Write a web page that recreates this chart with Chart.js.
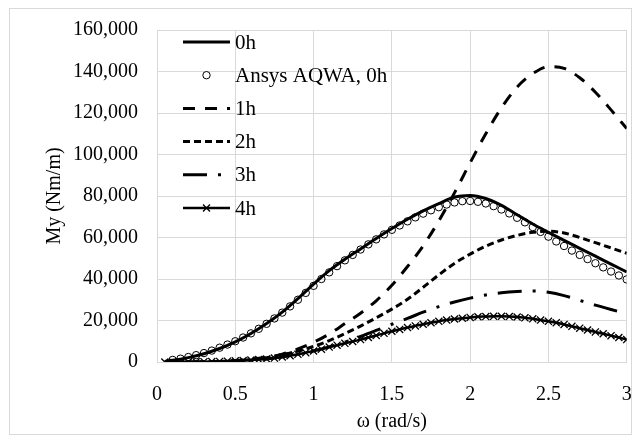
<!DOCTYPE html>
<html>
<head>
<meta charset="utf-8">
<script src="https://cdn.jsdelivr.net/npm/chart.js@4/dist/chart.umd.min.js"></script>
<style>
    body { margin: 0; background: #fff; }
    #wrap { width: 633px; height: 437px; }
</style>
</head>
<body>
<div id="wrap"><canvas id="myChart" width="633" height="437"></canvas></div>
<script>
// Data
const seriesNames = ['0h', 'Ansys AQWA, 0h', '1h', '2h', '3h', '4h'];

// frequency grid for the plain lines
const omega = [0.05, 0.1, 0.2, 0.3, 0.4, 0.5, 0.6, 0.7, 0.8, 0.9, 1.0,
    1.1, 1.2, 1.3, 1.4, 1.5, 1.6, 1.7, 1.8, 1.9, 2.0,
    2.1, 2.2, 2.3, 2.4, 2.5, 2.6, 2.7, 2.8, 2.9, 3.0];

// frequency grid for the marked series
const omegaFine = [0.05, 0.10, 0.15, 0.20, 0.25, 0.30, 0.35, 0.40, 0.45, 0.50,
    0.55, 0.60, 0.65, 0.70, 0.75, 0.80, 0.85, 0.90, 0.95, 1.00,
    1.05, 1.10, 1.15, 1.20, 1.25, 1.30, 1.35, 1.40, 1.45, 1.50,
    1.55, 1.60, 1.65, 1.70, 1.75, 1.80, 1.85, 1.90, 1.95, 2.00,
    2.05, 2.10, 2.15, 2.20, 2.25, 2.30, 2.35, 2.40, 2.45, 2.50,
    2.55, 2.60, 2.65, 2.70, 2.75, 2.80, 2.85, 2.90, 2.95, 3.00];

const my0h = [300, 800, 2100, 4000, 6500, 9700, 13700, 18500, 24000, 30500, 37500,
    44000, 49500, 54500, 59500, 64300, 68800, 72800, 76300, 79500, 80300,
    78800, 75500, 71000, 66500, 62500, 58600, 54800, 51000, 47200, 43400];

const myAnsys = [null, 1000, 1600, 2400, 3300, 4300, 5500, 6900, 8400, 10000,
    11800, 13800, 16000, 18400, 21000, 23800, 26800, 30000, 33300, 36700,
    40000, 43200, 46200, 49000, 51600, 54200, 56700, 59100, 61500, 63700,
    65800, 67800, 69700, 71500, 73100, 74600, 75900, 76900, 77500, 77600,
    77200, 76400, 75100, 73500, 71600, 69500, 67300, 65000, 62700, 60400,
    58100, 55900, 53700, 51600, 49600, 47600, 45600, 43600, 41700, 39800];

const my1h = [0, 0, 30, 100, 300, 700, 1300, 2300, 3800, 6300, 9500,
    13500, 18500, 23500, 29500, 37000, 46000, 56000, 68000, 81500, 96000,
    110000, 122500, 132500, 139000, 142300, 141500, 137000, 130000, 121500, 112500];

const my2h = [0, 0, 20, 80, 250, 600, 1200, 2100, 3400, 5300, 7500,
    10300, 13700, 17300, 21300, 25500, 30200, 36000, 42000, 47500, 52000,
    55800, 58800, 61000, 62500, 63000, 62200, 60000, 57500, 55000, 52400];

const my3h = [0, 0, 20, 70, 200, 450, 850, 1500, 2500, 3800, 5400,
    7300, 9600, 12300, 15200, 18200, 21000, 24000, 26700, 28900, 30800,
    32300, 33400, 34000, 34200, 33600, 32000, 29700, 27400, 25300, 23300];

const my4h = [0, 10, 30, 60, 100, 150, 220, 300, 420, 560,
    740, 950, 1200, 1500, 1900, 2400, 3000, 3700, 4500, 5300,
    6200, 7200, 8100, 9000, 9900, 10800, 11800, 12800, 13800, 14800,
    15700, 16600, 17400, 18200, 18900, 19600, 20200, 20700, 21100, 21500,
    21800, 21900, 22000, 22000, 21900, 21700, 21300, 20800, 20200, 19600,
    18900, 18100, 17200, 16300, 15400, 14500, 13600, 12700, 11800, 10800];

const xTicks = { min: 0, max: 3, step: 0.5 };
const yTicks = { min: 0, max: 160000, step: 20000 };

const FONT = '"Liberation Serif", "Times New Roman", serif';
const GRID = '#d9d9d9';

function toPoints(xs, ys) {
    return xs.map((x, i) => ({ x: x, y: ys[i] })).filter(p => p.y !== null);
}

const datasets = [
    { label: seriesNames[0], data: toPoints(omega, my0h), borderWidth: 3, borderDash: [], pointRadius: 0 },
    { label: seriesNames[1], data: toPoints(omegaFine, myAnsys), showLine: false, pointStyle: 'circle',
      pointRadius: 3.7, pointBorderWidth: 1, pointBackgroundColor: 'rgba(0,0,0,0)' },
    { label: seriesNames[2], data: toPoints(omega, my1h), borderWidth: 3, borderDash: [12, 10], pointRadius: 0 },
    { label: seriesNames[3], data: toPoints(omega, my2h), borderWidth: 3, borderDash: [7, 4], pointRadius: 0 },
    { label: seriesNames[4], data: toPoints(omega, my3h), borderWidth: 3, borderDash: [24, 11, 3, 11], pointRadius: 0 },
    { label: seriesNames[5], data: toPoints(omegaFine, my4h), borderWidth: 2.5, borderDash: [], pointStyle: 'crossRot',
      pointRadius: 5, pointBorderWidth: 1.3 }
].map((d, i) => ({
    borderColor: '#000',
    pointBorderColor: '#000',
    backgroundColor: '#000',
    cubicInterpolationMode: 'monotone',
    order: 10 - i,
    ...d
}));

// legend drawn inside the plot, top left
const insideLegend = {
    id: 'insideLegend',
    afterDraw(chart) {
        const ctx = chart.ctx;
        const x0 = 183, x1 = 230, top = 42, gap = 33.2;
        ctx.save();
        datasets.forEach((d, i) => {
            const y = top + i * gap;
            ctx.strokeStyle = '#000';
            if (d.showLine !== false) {
                ctx.beginPath();
                ctx.lineWidth = d.borderWidth;
                ctx.setLineDash(d.borderDash);
                ctx.moveTo(x0, y);
                ctx.lineTo(x1, y);
                ctx.stroke();
            }
            ctx.setLineDash([]);
            const mx = (x0 + x1) / 2;
            if (d.pointStyle === 'circle') {
                ctx.lineWidth = 1;
                ctx.beginPath();
                ctx.arc(mx, y, d.pointRadius, 0, Math.PI * 2);
                ctx.stroke();
            } else if (d.pointStyle === 'crossRot') {
                const r = d.pointRadius * 0.7;
                ctx.lineWidth = d.pointBorderWidth;
                ctx.beginPath();
                ctx.moveTo(mx - r, y - r); ctx.lineTo(mx + r, y + r);
                ctx.moveTo(mx + r, y - r); ctx.lineTo(mx - r, y + r);
                ctx.stroke();
            }
            ctx.fillStyle = '#000';
            ctx.font = '21px ' + FONT;
            ctx.textAlign = 'left';
            ctx.textBaseline = 'middle';
            ctx.fillText(d.label, 235, y + 1);
        });
        ctx.restore();
    }
};

// light frame round the whole chart
const outerFrame = {
    id: 'outerFrame',
    beforeDraw(chart) {
        const ctx = chart.ctx;
        ctx.save();
        ctx.fillStyle = '#fff';
        ctx.fillRect(0, 0, chart.width, chart.height);
        ctx.strokeStyle = GRID;
        ctx.lineWidth = 1;
        ctx.strokeRect(9.5, 8.5, 622, 426);
        ctx.restore();
    }
};

const ctx = document.getElementById('myChart').getContext('2d');
const chart = new Chart(ctx, {
    type: 'line',
    data: { datasets: datasets },
    options: {
        responsive: false,
        animation: false,
        devicePixelRatio: 1,
        layout: { padding: { top: 30, right: 6, bottom: 3, left: 0 } },
        plugins: {
            legend: { display: false },
            tooltip: { enabled: false }
        },
        scales: {
            x: {
                type: 'linear',
                min: xTicks.min,
                max: xTicks.max,
                afterFit: (scale) => {
                    scale.height = 72;
                    scale.paddingLeft = 0;
                    scale.paddingRight = 0;
                },
                ticks: {
                    stepSize: xTicks.step,
                    padding: 21,
                    color: '#000',
                    maxRotation: 0,
                    font: { family: FONT, size: 20 },
                    callback: (v) => String(Number(v))
                },
                grid: { color: GRID, drawTicks: false },
                border: { color: GRID },
                title: {
                    display: true,
                    text: 'ω (rad/s)',
                    color: '#000',
                    padding: { top: 0, bottom: 0 },
                    font: { family: FONT, size: 20 }
                }
            },
            y: {
                min: yTicks.min,
                max: yTicks.max,
                afterFit: (scale) => {
                    scale.width = 157;
                    scale.paddingTop = 0;
                    scale.paddingBottom = 0;
                },
                ticks: {
                    stepSize: yTicks.step,
                    padding: 19,
                    color: '#000',
                    font: { family: FONT, size: 20 },
                    callback: (v) => v.toLocaleString('en-US')
                },
                grid: { color: GRID, drawTicks: false },
                border: { color: GRID },
                title: {
                    display: true,
                    text: 'My (Nm/m)',
                    color: '#000',
                    padding: { top: 43, bottom: 0 },
                    font: { family: FONT, size: 20 }
                }
            }
        }
    },
    plugins: [outerFrame, insideLegend]
});
</script>
</body>
</html>
